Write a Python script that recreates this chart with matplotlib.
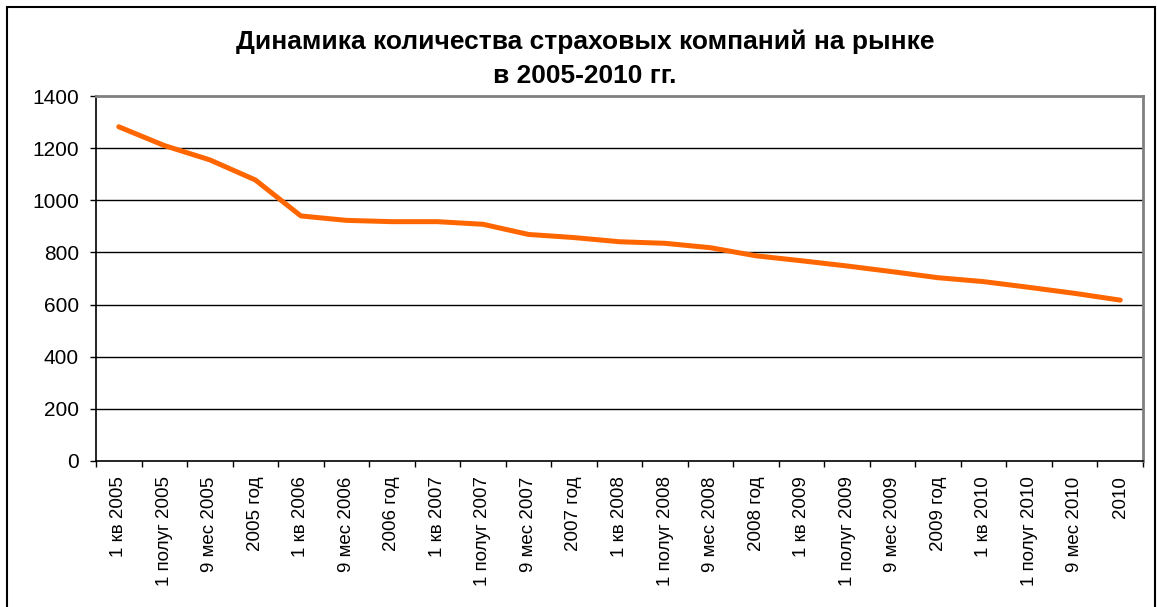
import numpy as np
import matplotlib.pyplot as plt
from matplotlib.patches import Rectangle

plt.rcParams['font.family'] = ['Liberation Sans', 'DejaVu Sans']

# data
periods = ["1 кв 2005", "1 полуг 2005", "9 мес 2005", "2005 год",
           "1 кв 2006", "9 мес 2006", "2006 год",
           "1 кв 2007", "1 полуг 2007", "9 мес 2007", "2007 год",
           "1 кв 2008", "1 полуг 2008", "9 мес 2008", "2008 год",
           "1 кв 2009", "1 полуг 2009", "9 мес 2009", "2009 год",
           "1 кв 2010", "1 полуг 2010", "9 мес 2010", "2010"]
companies = [1282, 1210, 1155, 1078,
             940, 923, 918,
             918, 908, 869, 857,
             841, 835, 818, 787,
             768, 748, 726, 703,
             688, 666, 643, 617]
y_ticks = [0, 200, 400, 600, 800, 1000, 1200, 1400]

W, H = 1157, 607
fig = plt.figure(figsize=(W / 100, H / 100), dpi=100)
ax = fig.add_axes([96 / W, 1 - 461 / H, (1143 - 96) / W, (461 - 96) / H])

# outer chart border (cut off at bottom like the reference)
fig.patches.append(Rectangle((7 / W, -0.05), (1155 - 7) / W, 1.05 - 7 / H,
                             transform=fig.transFigure, fill=False,
                             edgecolor='black', linewidth=1.5))

x = np.arange(len(periods))
ax.plot(x, companies, color='#FF6600', linewidth=3.6,
        solid_capstyle='round', solid_joinstyle='round', zorder=3)

ax.set_xlim(-0.5, len(periods) - 0.5)
ax.set_ylim(0, 1400)
ax.set_yticks(y_ticks)
ax.set_yticklabels([str(v) for v in y_ticks], fontsize=15)
for v in y_ticks[1:-1]:
    ax.axhline(v, color='black', linewidth=1, zorder=1)

# ticks on category boundaries, labels in the middle
ax.set_xticks(np.arange(len(periods) + 1) - 0.5)
ax.set_xticklabels([])
ax.set_xticks(x, minor=True)
ax.set_xticklabels(periods, minor=True, rotation=90, fontsize=13.5,
                   va='top', ha='center')
ax.tick_params(axis='x', which='minor', length=0, pad=11)
ax.tick_params(axis='x', which='major', length=4.3, width=1, direction='out')
ax.tick_params(axis='y', length=4.3, width=1, direction='out', pad=8)

for s in ['left', 'bottom']:
    ax.spines[s].set_color('black')
    ax.spines[s].set_linewidth(1.2)
for s in ['top', 'right']:
    ax.spines[s].set_color('#808080')
    ax.spines[s].set_linewidth(2)

fig.text(585 / W, 1 - 42 / H, "Динамика количества страховых компаний на рынке",
         ha='center', va='center', fontsize=19, fontweight='bold')
fig.text(585 / W, 1 - 76 / H, "в 2005-2010 гг.",
         ha='center', va='center', fontsize=19, fontweight='bold')

fig.savefig('out.png', dpi=100)
